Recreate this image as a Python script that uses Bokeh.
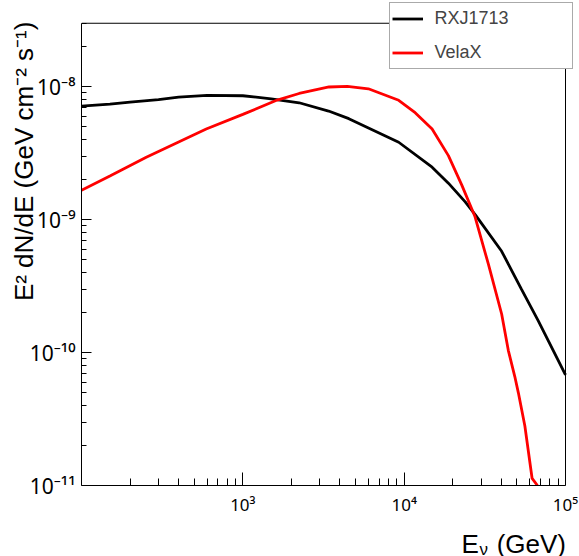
import math
from bokeh.plotting import figure
from bokeh.layouts import column
from bokeh.models import (FixedTicker, CustomJSTickFormatter, Label, Legend, LegendItem, Range1d)
from bokeh.embed import file_html
from bokeh.resources import INLINE

# ---- data ----
rxj_energy = [100, 150, 200, 300, 400, 600, 1000, 1500, 2234, 3400, 4540, 9250,
              14900, 18800, 23900, 27700, 40200, 53300, 67700, 100000]
rxj_flux = [7.14e-9, 7.4e-9, 7.66e-9, 8.0e-9, 8.35e-9, 8.59e-9, 8.55e-9, 8.1e-9, 7.57e-9,
            6.56e-9, 5.75e-9, 3.82e-9, 2.48e-9, 1.88e-9, 1.36e-9, 1.08e-9, 5.78e-10,
            3.0e-10, 1.74e-10, 6.8e-11]

vela_energy = [100, 150, 252, 400, 593, 1000, 1633, 2234, 3420, 4440, 6000, 9250,
               11700, 14900, 18800, 22800, 27500, 33300, 40200, 44200, 48500, 51000,
               56000, 62100, 67000]
vela_flux = [1.66e-9, 2.13e-9, 2.95e-9, 3.84e-9, 4.8e-9, 6.19e-9, 7.93e-9, 8.89e-9,
             9.95e-9, 1.007e-8, 9.64e-9, 7.9e-9, 6.38e-9, 4.8e-9, 3.03e-9, 1.81e-9,
             1.05e-9, 4.6e-10, 1.95e-10, 1.04e-10, 6.6e-11, 5.0e-11, 2.8e-11, 1.13e-11,
             1.0e-11]

series_names = ["RXJ1713", "VelaX"]
series_colors = ["black", "#ff0000"]

x_axis_min, x_axis_max = 100, 1e5
y_axis_min, y_axis_max = 1e-11, 3e-8

x_major_ticks = [1e3, 1e4, 1e5]
x_minor_ticks = [200, 300, 400, 500, 600, 700, 800, 900,
                 2000, 3000, 4000, 5000, 6000, 7000, 8000, 9000,
                 20000, 30000, 40000, 50000, 60000, 70000, 80000, 90000]
y_major_ticks = [1e-11, 1e-10, 1e-9, 1e-8]
y_minor_ticks = [2e-11, 3e-11, 4e-11, 5e-11, 6e-11, 7e-11, 8e-11, 9e-11,
                 2e-10, 3e-10, 4e-10, 5e-10, 6e-10, 7e-10, 8e-10, 9e-10,
                 2e-9, 3e-9, 4e-9, 5e-9, 6e-9, 7e-9, 8e-9, 9e-9,
                 2e-8, 3e-8]

y_title = "E\u00b2 dN/dE (GeV cm\u207b\u00b2 s\u207b\u00b9)"

FONT = "Liberation Sans"
TICK_FONT = "Noto Sans"

# ---- layout geometry (pixels) ----
W, H_MAIN, H_TITLE = 579, 518, 38
FR_LEFT, FR_TOP, FR_BOTTOM = 81, 0, 490        # drawable area of main figure
AX_RIGHT, AX_TOP = 565, 23                     # where the axes' box ends
px_per_dec_x = (AX_RIGHT - FR_LEFT) / math.log10(x_axis_max / x_axis_min)
px_per_dec_y = (FR_BOTTOM - AX_TOP) / math.log10(y_axis_max / y_axis_min)
x_view_max = 10 ** (math.log10(x_axis_max) + (W - AX_RIGHT) / px_per_dec_x)
y_view_max = 10 ** (math.log10(y_axis_max) + (AX_TOP - FR_TOP) / px_per_dec_y)

p = figure(width=W, height=H_MAIN, x_axis_type="log", y_axis_type="log",
           x_range=Range1d(x_axis_min, x_view_max), y_range=Range1d(y_axis_min, y_view_max),
           output_backend="svg", toolbar_location=None,
           min_border_left=FR_LEFT, min_border_right=0, min_border_top=FR_TOP,
           min_border_bottom=H_MAIN - FR_BOTTOM)

p.background_fill_color = "white"
p.border_fill_color = "white"
p.outline_line_color = None
p.xgrid.visible = False
p.ygrid.visible = False

fmt = CustomJSTickFormatter(code="""
const sup = {"-":"\u207b","0":"\u2070","1":"\u00b9","2":"\u00b2","3":"\u00b3","4":"\u2074",
             "5":"\u2075","6":"\u2076","7":"\u2077","8":"\u2078","9":"\u2079"};
const e = Math.round(Math.log10(tick));
return "10" + String(e).split("").map(c => sup[c]).join("");
""")

xa = p.xaxis[0]
xa.bounds = (x_axis_min, x_axis_max)
xa.ticker = FixedTicker(ticks=x_major_ticks, minor_ticks=x_minor_ticks)
xa.formatter = fmt
xa.major_tick_in = 13
xa.major_tick_out = 0
xa.minor_tick_in = 7
xa.minor_tick_out = 0
xa.major_label_standoff = 7
xa.major_label_text_font = TICK_FONT
xa.major_label_text_font_size = "17px"
xa.major_label_text_color = "black"
xa.axis_line_color = "black"
xa.major_tick_line_color = "black"
xa.minor_tick_line_color = "black"

ya = p.yaxis[0]
ya.bounds = (y_axis_min, y_axis_max)
ya.ticker = FixedTicker(ticks=y_major_ticks, minor_ticks=y_minor_ticks)
ya.formatter = fmt
ya.major_tick_in = 10
ya.major_tick_out = 0
ya.minor_tick_in = 5
ya.minor_tick_out = 0
ya.major_label_standoff = 6
ya.major_label_text_font = TICK_FONT
ya.major_label_text_font_size = "21px"
ya.major_label_text_color = "black"
ya.axis_line_color = "black"
ya.major_tick_line_color = "black"
ya.minor_tick_line_color = "black"
# the title is centred on the drawable height; leading fixed-width spaces push the
# visible words up so that they end at the top of the axis, as in the reference
ya.axis_label = "\u2003" * 6 + "\u00a0" + y_title
ya.axis_label_text_font = FONT
ya.axis_label_text_font_size = "26px"
ya.axis_label_text_font_style = "normal"
ya.axis_label_text_color = "black"
ya.axis_label_standoff = -12

# top and right edges of the axes box
p.segment(x0=[x_axis_min, x_axis_max], y0=[y_axis_max, y_axis_min],
          x1=[x_axis_max, x_axis_max], y1=[y_axis_max, y_axis_max],
          line_color="black", line_width=1)

r1 = p.line(rxj_energy, rxj_flux, line_color=series_colors[0], line_width=2.8)
r2 = p.line(vela_energy, vela_flux, line_color=series_colors[1], line_width=2.8)

legend = Legend(items=[LegendItem(label=series_names[0], renderers=[r1]),
                       LegendItem(label=series_names[1], renderers=[r2])],
                location=(307.5, 416), orientation="vertical",
                padding=2, spacing=7, margin=0,
                label_height=27, glyph_height=27, glyph_width=31,
                label_standoff=12, label_width=135,
                label_text_font=FONT, label_text_font_size="18px",
                label_text_baseline="middle",
                border_line_color="#555555", border_line_width=1,
                background_fill_color="white", background_fill_alpha=1.0)
p.add_layout(legend, "center")

# ---- x axis title strip: "E_nu (GeV)" right aligned at the end of the axis ----
# (the column layout aligns this strip's frame with the main frame's left edge)
t = figure(width=W, height=H_TITLE, x_range=Range1d(0, 1), y_range=Range1d(0, 1),
           output_backend="svg", toolbar_location=None,
           min_border_left=0, min_border_right=0, min_border_top=0, min_border_bottom=0,
           x_axis_location=None, y_axis_location=None)
t.outline_line_color = None
t.xgrid.visible = False
t.ygrid.visible = False
t.add_layout(Label(x=AX_RIGHT + 0.5 - FR_LEFT, y=13, x_units="screen", y_units="screen",
                   text="(GeV)", text_align="right", text_baseline="alphabetic",
                   text_font=FONT, text_font_size="26px", text_color="black"))
t.add_layout(Label(x=461 - FR_LEFT, y=13, x_units="screen", y_units="screen",
                   text="E", text_align="left", text_baseline="alphabetic",
                   text_font=FONT, text_font_size="26px", text_color="black"))
t.add_layout(Label(x=479 - FR_LEFT, y=7, x_units="screen", y_units="screen",
                   text="\u03bd", text_align="left", text_baseline="alphabetic",
                   text_font=FONT, text_font_size="17px", text_color="black"))

layout = column(p, t, spacing=0)
open("out.html", "w").write(file_html(layout, INLINE))
